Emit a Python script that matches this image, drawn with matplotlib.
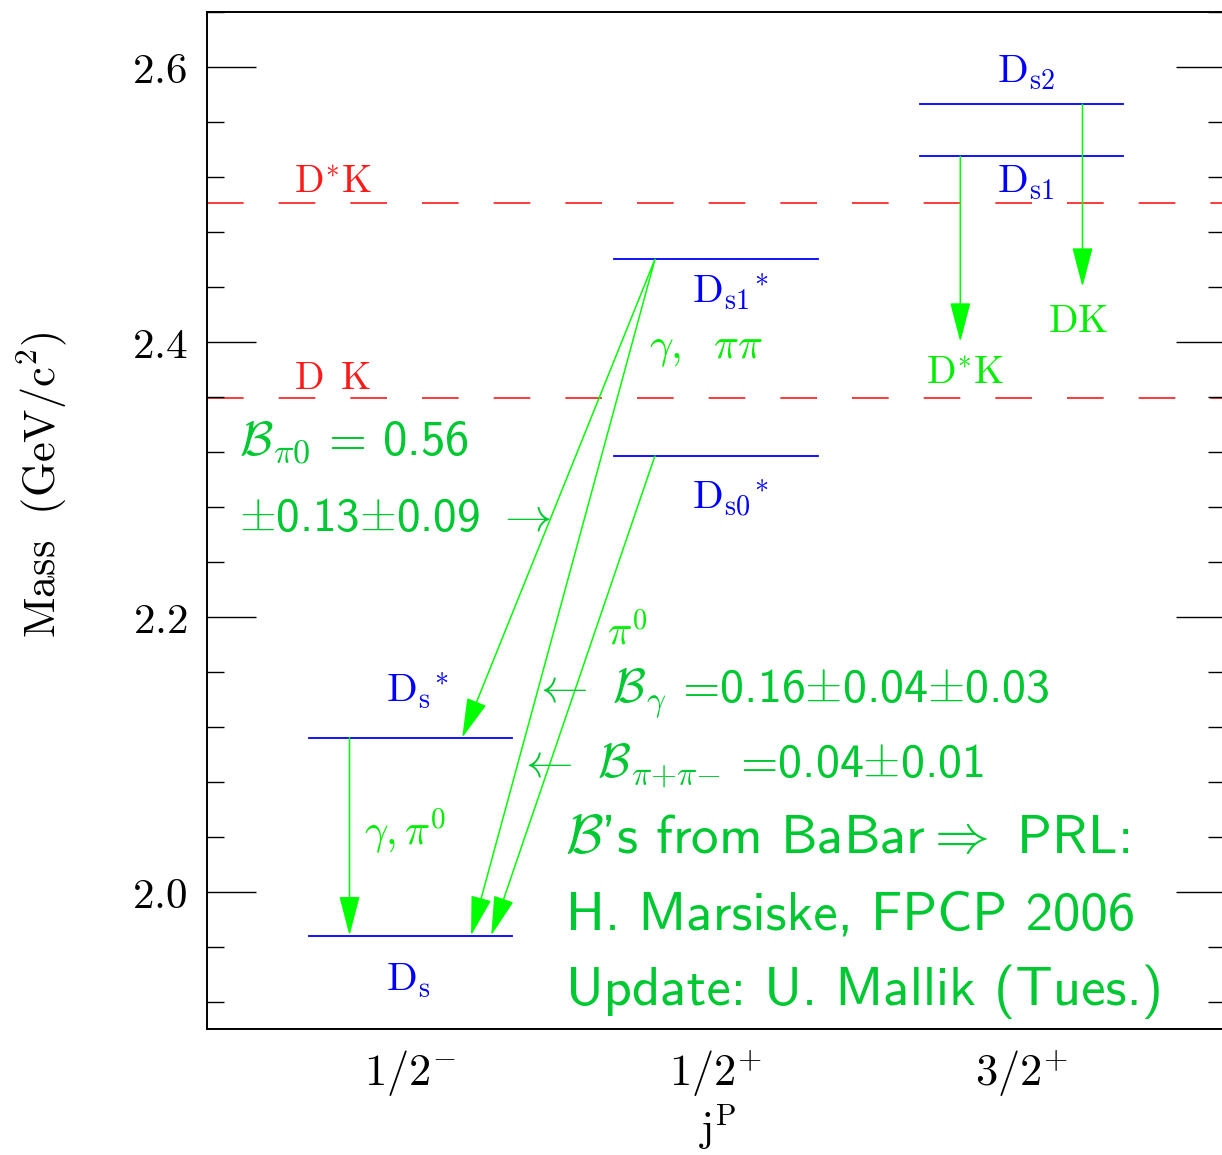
import matplotlib.pyplot as plt
from matplotlib.patches import FancyArrowPatch
from matplotlib.ticker import MultipleLocator

plt.rcParams['mathtext.fontset'] = 'cm'
plt.rcParams['axes.unicode_minus'] = False

BLUE = '#0000ff'
RED = '#ff1a1a'
GREEN = '#00ff00'
LABEL_GREEN = '#00ee00'
NOTE_GREEN = '#00c832'

# j^P columns
columns = [1, 2, 3]
column_labels = [r'$1/2^{-}$', r'$1/2^{+}$', r'$3/2^{+}$']

# D_s states: column, mass in GeV/c^2
state_labels = [r'$\mathrm{D_s}$', r'$\mathrm{D_s}^{\ast}$', r'$\mathrm{D_{s0}}^{\ast}$',
                r'$\mathrm{D_{s1}}^{\ast}$', r'$\mathrm{D_{s1}}$', r'$\mathrm{D_{s2}}$']
state_column = [1, 1, 2, 2, 3, 3]
state_mass = [1.968, 2.112, 2.317, 2.460, 2.535, 2.573]

# DK and D*K thresholds
threshold_labels = [r'$\mathrm{D}\enspace\mathrm{K}$', r'$\mathrm{D^{\ast}K}$']
threshold_mass = [2.359, 2.501]

# decays: parent state index -> daughter state index (None = open DK / D*K channel)
decay_parent = [5, 4, 1, 3, 3, 2]
decay_daughter = [None, None, 0, 1, 0, 0]
decay_open_mass = [2.440, 2.400, None, None, None, None]
decay_labels = [r'$\mathrm{DK}$', r'$\mathrm{D^{\ast}K}$', r'$\gamma,\pi^{\mathsf{0}}$',
                r'$\gamma,\ \ \pi\pi$', r'$\pi^{\mathsf{0}}$']

notes = [
    r'$\mathcal{B}_{\pi\mathsf{0}}$ = 0.56',
    r'$\pm$0.13$\pm$0.09 $\rightarrow$',
    r'$\leftarrow$ $\mathcal{B}_{\gamma}$ =0.16$\pm$0.04$\pm$0.03',
    r'$\leftarrow$ $\mathcal{B}_{\pi{+}\pi{-}}$ =0.04$\pm$0.01',
    r"$\mathcal{B}$'s from BaBar$\Rightarrow$ PRL:",
    'H. Marsiske, FPCP 2006',
    'Update: U. Mallik (Tues.)',
]

# layout
HALF = 1 / 3
label_dx = -0.08
label_dy = [-0.040, 0.026, -0.039, -0.032, -0.027, 0.015]
arrow_x0 = [0.2, -0.2, -0.2, -0.2, -0.2, -0.2]
arrow_x1 = [None, None, None, 1.169, 1.198, 1.264]
decay_label_xy = [(3.087, 2.407), (2.687, 2.369), (0.848, 2.034), (1.782, 2.388), (1.644, 2.180)]
decay_label_size = [28, 28, 30, 30, 29]
note_xy = [(0.438, 2.318), (0.438, 2.262), (1.398, 2.1375), (1.349, 2.083),
           (1.507, 2.0284), (1.510, 1.9724), (1.510, 1.9178)]
note_size = [35, 34, 34.5, 34.5, 39.5, 39.5, 39.5]

fig = plt.figure(figsize=(12.22, 11.55), dpi=100)
ax = fig.add_axes([207 / 1222, 1 - 1029 / 1155, 1018 / 1222, 1017 / 1155])
ax.set_xlim(1 / 3, 11 / 3)
ax.set_ylim(1.9, 2.64)

for m, lab in zip(threshold_mass, threshold_labels):
    ax.axhline(m, color=RED, lw=1.2, dashes=(22, 21), zorder=1)
    ax.text(0.618, m + 0.007, lab, color=RED, fontsize=28, va='baseline', ha='left')

for lab, c, m, dy in zip(state_labels, state_column, state_mass, label_dy):
    ax.plot([c - HALF, c + HALF], [m, m], color=BLUE, lw=1.3, zorder=2)
    ax.text(c + label_dx, m + dy, lab, color=BLUE, fontsize=29, va='baseline', ha='left')

for i, p in enumerate(decay_parent):
    x0 = state_column[p] + arrow_x0[i]
    y0 = state_mass[p]
    x1 = arrow_x1[i] if arrow_x1[i] is not None else x0
    if decay_daughter[i] is None:
        y1 = decay_open_mass[i]
    else:
        y1 = state_mass[decay_daughter[i]]
    ax.add_patch(FancyArrowPatch((x0, y0), (x1, y1), arrowstyle='-|>,head_length=25,head_width=6.5',
                                 mutation_scale=1, lw=1.1, color=GREEN, shrinkA=0, shrinkB=0, zorder=3))

for lab, (x, y), fs in zip(decay_labels, decay_label_xy, decay_label_size):
    ax.text(x, y, lab, color=LABEL_GREEN, fontsize=fs, va='baseline', ha='left')

for txt, (x, y), fs in zip(notes, note_xy, note_size):
    ax.text(x, y, txt, color=NOTE_GREEN, fontsize=fs, family='cmss10', va='baseline', ha='left')

ax.set_yticks([2.0, 2.2, 2.4, 2.6])
ax.set_yticklabels([r'$2.0$', r'$2.2$', r'$2.4$', r'$2.6$'], fontsize=31)
ax.yaxis.set_minor_locator(MultipleLocator(0.04))
ax.tick_params(axis='y', which='both', direction='in', left=True, right=True, width=1.0, pad=14)
ax.tick_params(axis='y', which='major', length=35)
ax.tick_params(axis='y', which='minor', length=12)
ax.set_xticks(columns)
ax.set_xticklabels(column_labels, fontsize=32)
ax.tick_params(axis='x', length=0, pad=14)
for s in ax.spines.values():
    s.set_linewidth(1.4)

fig.text(42 / 1222, 1 - 485 / 1155, r'$\mathrm{Mass\ \ (GeV/c^2)}$', rotation=90,
         fontsize=32, ha='center', va='center')
fig.text(718 / 1222, 1 - 1128 / 1155, r'$\mathrm{j^P}$', fontsize=31, ha='center', va='center')

fig.savefig('out.png', dpi=100)
